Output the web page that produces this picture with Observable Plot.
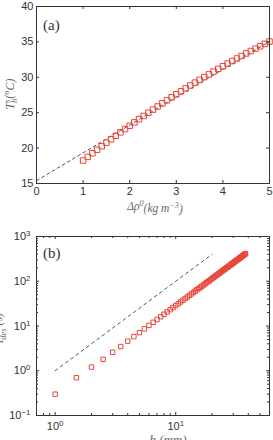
<!DOCTYPE html>
<html>
<head>
<meta charset="utf-8">
<script src="https://cdn.jsdelivr.net/npm/d3@7"></script>
<script src="https://cdn.jsdelivr.net/npm/@observablehq/plot@0.6"></script>
<style>
  body { margin: 0; background: #fff; }
  #chart { width: 273px; }
  #chart svg { display: block; }
</style>
</head>
<body>
<div id="chart"></div>
<script>
// Panel (a): surface temperature against initial density difference
const densityDiff = [1.0, 1.1, 1.2, 1.3, 1.4, 1.5, 1.6, 1.7, 1.8, 1.9,
  2.0, 2.1, 2.2, 2.3, 2.4, 2.5, 2.6, 2.7, 2.8, 2.9,
  3.0, 3.1, 3.2, 3.3, 3.4, 3.5, 3.6, 3.7, 3.8, 3.9,
  4.0, 4.1, 4.2, 4.3, 4.4, 4.5, 4.6, 4.7, 4.8, 4.9, 5.0];
const surfaceTemp = [18.25, 18.76, 19.27, 19.77, 20.27, 20.77, 21.25, 21.74, 22.22, 22.69,
  23.16, 23.63, 24.09, 24.54, 24.99, 25.44, 25.88, 26.32, 26.75, 27.18,
  27.60, 28.02, 28.43, 28.84, 29.24, 29.64, 30.03, 30.42, 30.81, 31.19,
  31.56, 31.93, 32.30, 32.66, 33.01, 33.37, 33.71, 34.05, 34.39, 34.72, 35.05];
const fitDensity = [0, 5];
const fitTemp = [15.4, 35.05];
const densityTicks = [0, 1, 2, 3, 4, 5];
const tempTicks = [15, 20, 25, 30, 35, 40];

// Panel (b): descent time against layer depth (log-log)
const depth = [1, 1.5, 2, 2.5, 3, 3.5, 4, 4.5, 5, 5.5, 6, 6.5, 7, 7.5, 8, 8.5, 9, 9.5,
  10, 10.5, 11, 11.5, 12, 12.5, 13, 13.5, 14, 14.5, 15, 15.5, 16, 16.5, 17, 17.5,
  18, 18.5, 19, 19.5, 20, 20.5, 21, 21.5, 22, 22.5, 23, 23.5, 24, 24.5, 25, 25.5,
  26, 26.5, 27, 27.5, 28, 28.5, 29, 29.5, 30, 30.5, 31, 31.5, 32, 32.5, 33, 33.5,
  34, 34.5, 35, 35.5, 36, 36.5, 37, 37.5, 38];
const descentTime = [0.30, 0.70, 1.21, 1.80, 2.59, 3.47, 4.57, 5.8, 7.1, 8.65, 10.3, 12.1,
  14.0, 16.1, 18.3, 20.7, 23.2, 25.8, 28.6, 31.5, 34.6, 37.8, 41.2, 44.7, 48.3, 52.1,
  56.1, 60.1, 64.4, 68.7, 73.2, 77.9, 82.7, 87.6, 92.7, 97.9, 103, 109, 114, 120,
  126, 132, 138, 145, 151, 158, 165, 172, 179, 186, 193, 201, 208, 216, 224, 232,
  241, 249, 257, 266, 275, 284, 293, 302, 311, 321, 331, 340, 350, 360, 371, 381,
  392, 402, 413];
const scalingDepth = [1, 20];
const scalingTime = [1, 400];
const depthTicks = [1, 10];
const depthMinorTicks = [0.7, 0.8, 0.9, 2, 3, 4, 5, 6, 7, 8, 9, 20, 30, 40, 50, 60];
const timeTicks = [0.1, 1, 10, 100, 1000];
const timeMinorTicks = [0.2, 0.3, 0.4, 0.5, 0.6, 0.7, 0.8, 0.9, 2, 3, 4, 5, 6, 7, 8, 9,
  20, 30, 40, 50, 60, 70, 80, 90, 200, 300, 400, 500, 600, 700, 800, 900];

const frameColor = "#333";
const markerColor = "#e8463a";
const W = 273, H = 220;
const baseStyle = {fontFamily: "'Liberation Sans', Arial, sans-serif", fontSize: "11px", color: "#333", background: "#fff", overflow: "visible"};

// inward tick marks on all four sides of the box
function boxTicks(xs, ys, fw, fh, len) {
  return [
    Plot.tickX(xs, {x: d => d, insetTop: fh - len, stroke: frameColor}),
    Plot.tickX(xs, {x: d => d, insetBottom: fh - len, stroke: frameColor}),
    Plot.tickY(ys, {y: d => d, insetRight: fw - len, stroke: frameColor}),
    Plot.tickY(ys, {y: d => d, insetLeft: fw - len, stroke: frameColor})
  ];
}

// turn "10^k" tick text into a base with a raised exponent
function superscriptTicks(svg) {
  d3.select(svg).selectAll("text").each(function () {
    const t = this.textContent;
    if (!t.includes("^") || this.querySelector("tspan")) return;
    const [base, exp] = t.split("^");
    this.textContent = "";
    const sel = d3.select(this);
    sel.append("tspan").text(base);
    sel.append("tspan").attr("dy", "-0.5em").attr("font-size", "0.72em").text(exp);
  });
}

// ---- panel (a) ----
const mA = {top: 6, right: 4, bottom: 37, left: 36};
const fwA = W - mA.left - mA.right, fhA = H - mA.top - mA.bottom;
const plotA = Plot.plot({
  width: W, height: H,
  marginTop: mA.top, marginRight: mA.right, marginBottom: mA.bottom, marginLeft: mA.left,
  style: baseStyle,
  x: {domain: [0, 5], label: null},
  y: {domain: [15, 40], label: null},
  marks: [
    Plot.line(fitDensity, {x: fitDensity, y: fitTemp, stroke: "#444", strokeWidth: 0.9, strokeDasharray: "3,3"}),
    Plot.dot(densityDiff, {x: densityDiff, y: surfaceTemp, symbol: "square", r: 3.1, stroke: markerColor, fill: "none", strokeWidth: 1}),
    ...boxTicks(densityTicks, tempTicks, fwA, fhA, 3),
    Plot.frame({stroke: frameColor, strokeWidth: 1}),
    Plot.axisX(densityTicks, {tickSize: 0, tickPadding: 4, label: null}),
    Plot.axisY(tempTicks, {tickSize: 0, tickPadding: 3, label: null})
  ]
});

// ---- panel (b) ----
const mB = {top: 16, right: 4, bottom: 25, left: 36};
const fwB = W - mB.left - mB.right, fhB = H - mB.top - mB.bottom;
const plotB = Plot.plot({
  width: W, height: H,
  marginTop: mB.top, marginRight: mB.right, marginBottom: mB.bottom, marginLeft: mB.left,
  style: baseStyle,
  x: {type: "log", domain: [0.7, 60], label: null},
  y: {type: "log", domain: [0.1, 1000], label: null},
  marks: [
    Plot.line(scalingDepth, {x: scalingDepth, y: scalingTime, stroke: "#444", strokeWidth: 0.9, strokeDasharray: "3,3.5"}),
    Plot.dot(depth, {x: depth, y: descentTime, symbol: "square", r: 2.5, stroke: markerColor, fill: "none", strokeWidth: 1}),
    ...boxTicks(depthTicks, timeTicks, fwB, fhB, 3),
    ...boxTicks(depthMinorTicks, timeMinorTicks, fwB, fhB, 2),
    Plot.frame({stroke: frameColor, strokeWidth: 1}),
    Plot.axisX(depthTicks, {tickSize: 0, tickPadding: 7, label: null, tickFormat: d => "10^" + Math.round(Math.log10(d))}),
    Plot.axisY(timeTicks, {tickSize: 0, tickPadding: 6, label: null, tickFormat: d => "10^" + Math.round(Math.log10(d)).toString().replace("-", "\u2212")})
  ]
});

const chart = document.getElementById("chart");
chart.append(plotA, plotB);
superscriptTicks(plotB);

// axis titles and panel letters
const serif = "'Liberation Serif', 'DejaVu Serif', serif";
function addLabel(svg, {x, y, rotate = 0, size = 12, italic = true, anchor = "middle", color = "#666", parts}) {
  const t = d3.select(svg).append("text")
    .attr("transform", `translate(${x},${y}) rotate(${rotate})`)
    .attr("text-anchor", anchor)
    .attr("font-family", serif)
    .attr("font-size", size)
    .attr("font-style", italic ? "italic" : "normal")
    .attr("fill", color);
  for (const p of parts) {
    const s = t.append("tspan").text(p.text);
    if (p.dx != null) s.attr("dx", p.dx);
    if (p.dy != null) s.attr("dy", p.dy);
    if (p.size != null) s.attr("font-size", p.size);
  }
}

addLabel(plotA, {x: 43, y: 30, size: 15, italic: false, anchor: "start", color: "#333", parts: [{text: "(a)"}]});
addLabel(plotA, {x: 14, y: 94, rotate: -90, parts: [
  {text: "T"}, {text: "s", dy: "-0.45em", size: "0.7em"}, {text: "h", dx: "-3.5", dy: "0.8em", size: "0.7em"},
  {text: "(", dy: "-0.35em"}, {text: "o", dy: "-0.45em", size: "0.7em"}, {text: "C)", dy: "0.45em"}
]});
addLabel(plotA, {x: 155, y: 210, size: 11.5, parts: [
  {text: "\u0394\u03c1"}, {text: "0", dy: "-0.45em", size: "0.7em"},
  {text: "(kg m", dy: "0.45em"}, {text: "\u22123", dy: "-0.45em", size: "0.7em"}, {text: ")", dy: "0.45em"}
]});

addLabel(plotB, {x: 43, y: 38, size: 15, italic: false, anchor: "start", color: "#333", parts: [{text: "(b)"}]});
addLabel(plotB, {x: 3, y: 108, rotate: -90, parts: [
  {text: "t"}, {text: "des", dy: "0.3em", size: "0.7em"}, {text: " (s)", dy: "-0.3em"}
]});
addLabel(plotB, {x: 168, y: 224, size: 13, parts: [{text: "h (mm)"}]});
</script>
</body>
</html>
